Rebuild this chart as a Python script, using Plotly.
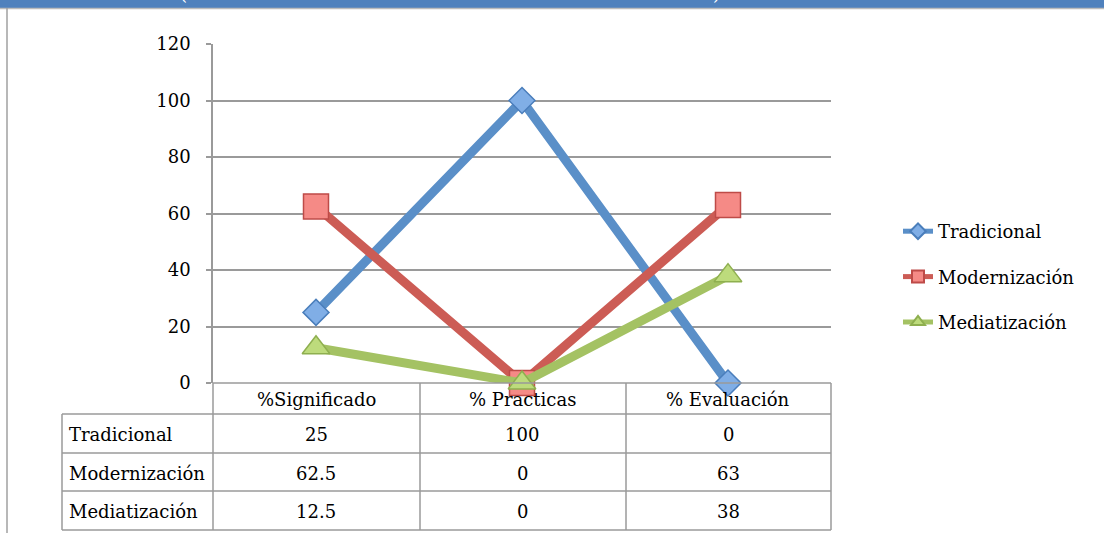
import plotly.graph_objects as go

categories = ["%Significado", "% Practicas", "% Evaluación"]
series_names = ["Tradicional", "Modernización", "Mediatización"]
tradicional = [25, 100, 0]
modernizacion = [62.5, 0, 63]
mediatizacion = [12.5, 0, 38]
y_ticks = [0, 20, 40, 60, 80, 100, 120]

series_values = [tradicional, modernizacion, mediatizacion]
line_colors = ["#5A8FC8", "#CC5C55", "#A4C263"]
fill_colors = ["#80AEE6", "#F58A86", "#BDDB7C"]
edge_colors = ["#4A7EBB", "#BE4B48", "#8EAF4F"]
symbols = ["diamond", "square", "triangle-up"]
sizes = [20, 25, 24]

FONT = "DejaVu Serif"
FS = 18
W, H = 1104, 533
L, R, T, B = 213, 831, 44, 383
pw, ph = R - L, B - T

def px2x(px):
    return (px - L) / pw

def py2y(py):
    return (B - py) / ph

fig = go.Figure()
xs = list(range(len(categories)))
for i, name in enumerate(series_names):
    fig.add_trace(go.Scatter(
        x=xs, y=series_values[i], name=name, mode="lines+markers",
        line=dict(color=line_colors[i], width=9),
        marker=dict(symbol=symbols[i], size=sizes[i], color=fill_colors[i],
                    line=dict(color=edge_colors[i], width=1.5)),
        legendgroup=name, cliponaxis=False,
    ))

shapes = []
annotations = []
grid = "#9A9A9A"
# top banner and frame
shapes.append(dict(type="rect", xref="paper", yref="paper", x0=px2x(-5), x1=px2x(W + 5),
                   y0=py2y(8), y1=py2y(-5), fillcolor="#4F81BD", line=dict(width=0), layer="above"))
shapes.append(dict(type="line", xref="paper", yref="paper", x0=px2x(0), x1=px2x(W + 5),
                   y0=py2y(8.5), y1=py2y(8.5), line=dict(color="#BBBBBB", width=1.5)))
shapes.append(dict(type="line", xref="paper", yref="paper", x0=px2x(7), x1=px2x(7),
                   y0=py2y(8), y1=py2y(H + 5), line=dict(color="#A0A0A0", width=1.5)))
for t, px in [("(", 183), (")", 716)]:
    annotations.append(dict(text=t, xref="paper", yref="paper", x=px2x(px), y=py2y(6),
                            xanchor="center", yanchor="bottom", showarrow=False,
                            font=dict(family=FONT, size=FS, color="white")))

# table
row_lines = [383, 414, 453, 491, 530]
col_lines = [62, 213, 420, 626, 831]
for j, py in enumerate(row_lines):
    x0 = 213 if j == 0 else 62
    shapes.append(dict(type="line", xref="paper", yref="paper", x0=px2x(x0), x1=px2x(831),
                       y0=py2y(py), y1=py2y(py), line=dict(color=grid, width=1.5)))
for k, px in enumerate(col_lines):
    y0 = 414 if k == 0 else 383
    shapes.append(dict(type="line", xref="paper", yref="paper", x0=px2x(px), x1=px2x(px),
                       y0=py2y(y0), y1=py2y(530), line=dict(color=grid, width=1.5)))
# header
for i, c in enumerate(categories):
    annotations.append(dict(text=c, xref="x", yref="paper", x=i,
                            y=py2y((383 + 414) / 2 + 1), xanchor="center", yanchor="middle",
                            showarrow=False, font=dict(family=FONT, size=FS, color="#000")))
for r, name in enumerate(series_names):
    yc = py2y((row_lines[r + 1] + row_lines[r + 2]) / 2 + 1)
    annotations.append(dict(text=name, xref="paper", yref="paper", x=px2x(67), y=yc,
                            xanchor="left", yanchor="middle", showarrow=False,
                            font=dict(family=FONT, size=FS, color="#000")))
    for i, v in enumerate(series_values[r]):
        annotations.append(dict(text=f"{v:g}", xref="x", yref="paper", x=i, y=yc,
                                xanchor="center", yanchor="middle", showarrow=False,
                                font=dict(family=FONT, size=FS, color="#000")))

fig.update_layout(
    width=W, height=H, autosize=False,
    margin=dict(l=L, r=W - R, t=T, b=H - B, pad=0),
    paper_bgcolor="white", plot_bgcolor="white",
    font=dict(family=FONT, size=FS, color="#000"),
    showlegend=True,
    legend=dict(x=px2x(898), y=py2y(213), xanchor="left", yanchor="top",
                tracegroupgap=19, font=dict(family=FONT, size=FS, color="#000"),
                bgcolor="rgba(0,0,0,0)", itemsizing="constant"),
    xaxis=dict(range=[-0.5, 2.5], showgrid=False, zeroline=False, showticklabels=False,
               ticks="", showline=False, fixedrange=True),
    yaxis=dict(range=[0, 120], tickvals=y_ticks, showgrid=True, gridcolor=grid, gridwidth=1.5,
               zeroline=False, showline=True, linecolor=grid, linewidth=1.5,
               ticks="outside", ticklen=5, tickcolor=grid, tickwidth=1.5,
               ticklabelstandoff=12, tickfont=dict(family=FONT, size=FS, color="#000")),
    shapes=shapes, annotations=annotations,
)

fig.write_html("out.html", config={"displayModeBar": False},
               post_script="document.body.style.margin='0';document.body.style.overflow='hidden';")
